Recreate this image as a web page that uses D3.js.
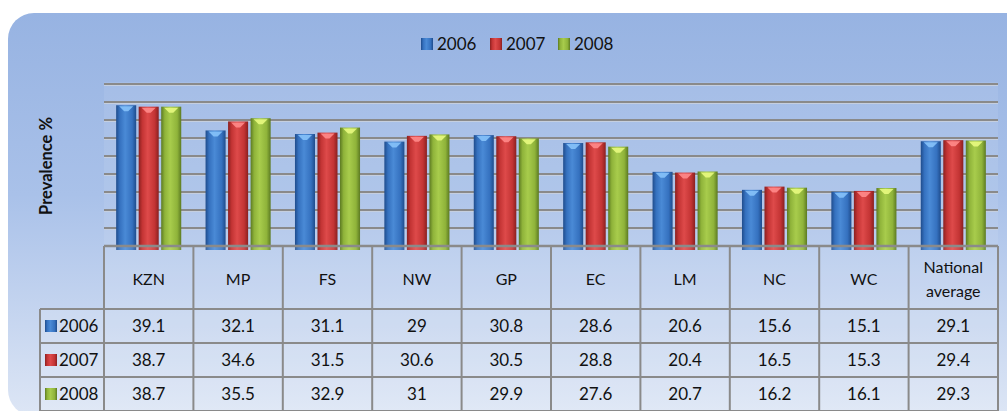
<!DOCTYPE html>
<html>
<head>
<meta charset="utf-8">
<script src="https://cdn.jsdelivr.net/npm/d3@7"></script>
<style>
  body { margin: 0; background: #fff; }
  svg { display: block; font-family: Lato, "Open Sans", sans-serif; }
</style>
</head>
<body>
<div id="chart"></div>
<script>
// chart data
const categories = ["KZN", "MP", "FS", "NW", "GP", "EC", "LM", "NC", "WC", "National average"];
const series = ["2006", "2007", "2008"];
const values2006 = [39.1, 32.1, 31.1, 29, 30.8, 28.6, 20.6, 15.6, 15.1, 29.1];
const values2007 = [38.7, 34.6, 31.5, 30.6, 30.5, 28.8, 20.4, 16.5, 15.3, 29.4];
const values2008 = [38.7, 35.5, 32.9, 31, 29.9, 27.6, 20.7, 16.2, 16.1, 29.3];
const yTicks = [0, 5, 10, 15, 20, 25, 30, 35, 40, 45];

const seriesValues = { "2006": values2006, "2007": values2007, "2008": values2008 };
const colors = {
    "2006": { dark: "#1f4c8c", mid: "#3571bf", light: "#4a8ad6", cap: "#86c2fa" },
    "2007": { dark: "#8a2020", mid: "#c33434", light: "#de4a4a", cap: "#ff8a8a" },
    "2008": { dark: "#5c7a22", mid: "#8fb33a", light: "#a8cc4c", cap: "#e8fa80" }
};

const width = 1007, height = 411;
const plotLeft = 104, plotRight = 998, plotTop = 84, baseY = 246;
const headerBottom = 309, rowH = 34;
const labelLeft = 40;

const svg = d3.select("#chart").append("svg")
    .attr("width", width).attr("height", height);
const defs = svg.append("defs");

// panel background
const bg = defs.append("linearGradient").attr("id", "bg")
    .attr("x1", 0).attr("y1", 0).attr("x2", 0).attr("y2", 1);
bg.append("stop").attr("offset", "0%").attr("stop-color", "#97b3e2");
bg.append("stop").attr("offset", "45%").attr("stop-color", "#a9c1e9");
bg.append("stop").attr("offset", "100%").attr("stop-color", "#dde6f5");

svg.append("rect")
    .attr("x", 8).attr("y", 13)
    .attr("width", 1030).attr("height", 403)
    .attr("rx", 26).attr("ry", 26)
    .attr("fill", "url(#bg)");

// bar gradients
series.forEach(s => {
    const c = colors[s];
    const g = defs.append("linearGradient").attr("id", "bar" + s)
        .attr("x1", 0).attr("y1", 0).attr("x2", 1).attr("y2", 0);
    g.append("stop").attr("offset", "0%").attr("stop-color", c.dark);
    g.append("stop").attr("offset", "18%").attr("stop-color", c.mid);
    g.append("stop").attr("offset", "45%").attr("stop-color", c.light);
    g.append("stop").attr("offset", "80%").attr("stop-color", c.mid);
    g.append("stop").attr("offset", "100%").attr("stop-color", c.dark);
});

const x = d3.scaleBand().domain(categories).range([plotLeft, plotRight]);
const xSub = d3.scaleBand().domain(series).range([0, x.bandwidth()])
    .paddingInner(0.11).paddingOuter(0.54);
const y = d3.scaleLinear().domain([0, 45]).range([baseY, plotTop]);

// plot area tint
svg.append("rect")
    .attr("x", plotLeft).attr("y", plotTop - 2)
    .attr("width", plotRight - plotLeft).attr("height", baseY - plotTop + 2)
    .attr("fill", "#ffffff").attr("opacity", 0.08);

// gridlines
const grid = svg.append("g");
grid.selectAll("line.shade").data(yTicks.slice(1)).join("line")
    .attr("class", "shade")
    .attr("x1", plotLeft).attr("x2", plotRight)
    .attr("y1", d => y(d) + 1.5).attr("y2", d => y(d) + 1.5)
    .attr("stroke", "#c5cfe0").attr("stroke-width", 1);
grid.selectAll("line.main").data(yTicks.slice(1)).join("line")
    .attr("class", "main")
    .attr("x1", plotLeft).attr("x2", plotRight)
    .attr("y1", d => y(d)).attr("y2", d => y(d))
    .attr("stroke", "#8a8a8a").attr("stroke-width", 2);

// bars
const groups = svg.append("g").selectAll("g").data(categories).join("g")
    .attr("transform", d => `translate(${x(d)},0)`);

groups.each(function(cat, i) {
    const g = d3.select(this);
    series.forEach(s => {
        const v = seriesValues[s][i];
        const bx = xSub(s), bw = xSub.bandwidth();
        const top = y(v);
        g.append("rect")
            .attr("x", bx).attr("y", top)
            .attr("width", bw).attr("height", baseY - top + 4)
            .attr("fill", `url(#bar${s})`);
        // top highlight
        g.append("path")
            .attr("d", `M${bx + 3},${top + 1} L${bx + bw - 3},${top + 1} L${bx + bw * 0.6},${top + 6} L${bx + bw * 0.4},${top + 6} Z`)
            .attr("fill", colors[s].cap).attr("opacity", 0.9);
    });
});

// table
const table = svg.append("g");
const cellFill = "#ffffff";
table.append("rect")
    .attr("x", plotLeft).attr("y", baseY)
    .attr("width", plotRight - plotLeft).attr("height", headerBottom - baseY)
    .attr("fill", cellFill).attr("opacity", 0.12);
table.append("rect")
    .attr("x", labelLeft).attr("y", headerBottom)
    .attr("width", plotRight - labelLeft).attr("height", rowH * 3)
    .attr("fill", cellFill).attr("opacity", 0.12);

const lineColor = "#8a8a8a";
// horizontal lines
table.append("line")
    .attr("x1", plotLeft).attr("x2", plotRight)
    .attr("y1", baseY).attr("y2", baseY)
    .attr("stroke", lineColor).attr("stroke-width", 2.5);
[0, 1, 2, 3].forEach(r => {
    table.append("line")
        .attr("x1", labelLeft).attr("x2", plotRight)
        .attr("y1", headerBottom + r * rowH).attr("y2", headerBottom + r * rowH)
        .attr("stroke", lineColor).attr("stroke-width", 2);
});
// vertical lines
const colEdges = categories.map(c => x(c)).concat([plotRight]);
table.selectAll("line.v").data(colEdges).join("line")
    .attr("class", "v")
    .attr("x1", d => d).attr("x2", d => d)
    .attr("y1", baseY).attr("y2", headerBottom + rowH * 3 + 2)
    .attr("stroke", lineColor).attr("stroke-width", 2);
table.append("line")
    .attr("x1", labelLeft).attr("x2", labelLeft)
    .attr("y1", headerBottom).attr("y2", headerBottom + rowH * 3 + 2)
    .attr("stroke", lineColor).attr("stroke-width", 2);

// header labels
table.selectAll("text.head").data(categories).join("text")
    .attr("class", "head")
    .attr("x", d => x(d) + x.bandwidth() / 2)
    .attr("text-anchor", "middle")
    .attr("font-size", 16).attr("fill", "#111")
    .each(function(d) {
        const t = d3.select(this);
        const words = d.split(" ");
        if (words.length === 1) {
            t.append("tspan").attr("x", x(d) + x.bandwidth() / 2).attr("y", 285).text(d);
        } else {
            t.append("tspan").attr("x", x(d) + x.bandwidth() / 2).attr("y", 273).text(words[0]);
            t.append("tspan").attr("x", x(d) + x.bandwidth() / 2).attr("y", 297).text(words[1]);
        }
    });

// value rows
series.forEach((s, r) => {
    const cy = headerBottom + r * rowH + rowH / 2 + 6;
    table.selectAll(`text.val${s}`).data(seriesValues[s]).join("text")
        .attr("class", `val${s}`)
        .attr("x", (d, i) => x(categories[i]) + x.bandwidth() / 2)
        .attr("y", cy)
        .attr("text-anchor", "middle")
        .attr("font-size", 17).attr("fill", "#111")
        .text(d => d);
    // row label with swatch
    table.append("rect")
        .attr("x", 45).attr("y", cy - 12)
        .attr("width", 12).attr("height", 12)
        .attr("fill", `url(#bar${s})`);
    table.append("text")
        .attr("x", 59).attr("y", cy)
        .attr("font-size", 17).attr("fill", "#111")
        .text(s);
});

// legend
const legendItems = [{ s: "2006", x: 421 }, { s: "2007", x: 490 }, { s: "2008", x: 558 }];
const legend = svg.append("g");
legendItems.forEach(it => {
    legend.append("rect")
        .attr("x", it.x).attr("y", 38)
        .attr("width", 12).attr("height", 12)
        .attr("fill", `url(#bar${it.s})`);
    legend.append("text")
        .attr("x", it.x + 16).attr("y", 50)
        .attr("font-size", 17).attr("fill", "#111")
        .text(it.s);
});

// y axis title
svg.append("text")
    .attr("transform", "translate(52,166) rotate(-90)")
    .attr("text-anchor", "middle")
    .attr("font-size", 16.5).attr("font-weight", "bold").attr("fill", "#111")
    .text("Prevalence %");
</script>
</body>
</html>
